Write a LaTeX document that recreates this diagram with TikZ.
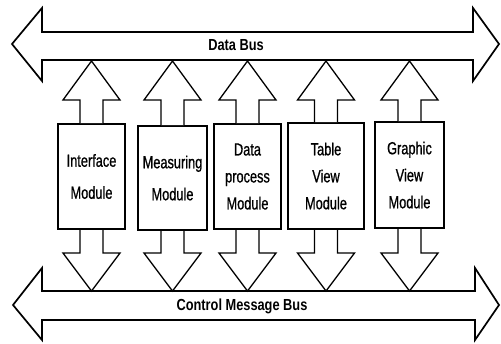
\documentclass[tikz,border=0pt]{standalone}
\usepackage{fontspec}
\setmainfont[FakeStretch=0.8]{Liberation Sans}
\newfontfamily\boxfont[FakeStretch=0.73,FakeBold=0.8]{Liberation Sans}
\usetikzlibrary{calc}
\begin{document}
\begin{tikzpicture}[x=1pt,y=-1pt,
  bus/.style={draw=black,fill=white,line width=1.7pt,line join=miter},
  blk/.style={draw=black,fill=white,line width=1.3pt,line join=miter},
  modbox/.style={draw=black,fill=white,line width=2pt,inner sep=0pt,align=center,
    font=\boxfont\fontsize{17.5}{27}\selectfont},
  twoline/.style={font=\boxfont\fontsize{17.5}{32}\selectfont},
  buslabel/.style={inner sep=0pt,anchor=base,font=\bfseries\fontsize{16}{18}\selectfont}]
\useasboundingbox (0,0) rectangle (501,343);
\fill[white] (0,0) rectangle (501,343);
% buses
\draw[bus] (12,44) -- (42,8) -- (42,32) -- (473,32) -- (473,8) -- (499,44) -- (473,81) -- (473,60) -- (42,60) -- (42,81) -- cycle;
\draw[bus] (13,305) -- (42,268) -- (42,291) -- (475,291) -- (475,268) -- (499,305) -- (475,340) -- (475,320) -- (42,320) -- (42,340) -- cycle;
\node[buslabel] (db) at (236,50) {Data Bus};
\node[buslabel] (cb) at (242,310) {Control Message Bus};
% helper levels
\coordinate (uptip) at (0,61);
\coordinate (uphb) at (0,100);
\coordinate (dnhb) at (0,253);
\coordinate (dntip) at (0,291);
% modules
\node[modbox,twoline,minimum width=67pt,minimum height=105pt] (m1) at (91.5,176.5) {Interface\\Module};
\node[modbox,twoline,minimum width=69pt,minimum height=104pt] (m2) at (172.5,178) {Measuring\\Module};
\node[modbox,minimum width=67pt,minimum height=105pt] (m3) at (247.5,176.5) {Data\\process\\Module};
\node[modbox,minimum width=76pt,minimum height=106pt] (m4) at (326,176) {Table\\View\\Module};
\node[modbox,minimum width=69pt,minimum height=106pt] (m5) at (409.5,175) {Graphic\\View\\Module};
% block arrows
\foreach \b in {m1,m2,m3,m4,m5}{
  \draw[blk] ([xshift=-11.5pt]\b.north) -- ([xshift=-11.5pt]\b.north |- uphb)
    -- ([xshift=-28.5pt]\b.north |- uphb) -- (\b.north |- uptip)
    -- ([xshift=28.5pt]\b.north |- uphb) -- ([xshift=11.5pt]\b.north |- uphb)
    -- ([xshift=11.5pt]\b.north);
  \draw[blk] ([xshift=-11.5pt]\b.south) -- ([xshift=-11.5pt]\b.south |- dnhb)
    -- ([xshift=-28.5pt]\b.south |- dnhb) -- (\b.south |- dntip)
    -- ([xshift=28.5pt]\b.south |- dnhb) -- ([xshift=11.5pt]\b.south |- dnhb)
    -- ([xshift=11.5pt]\b.south);
}
\end{tikzpicture}
\end{document}
